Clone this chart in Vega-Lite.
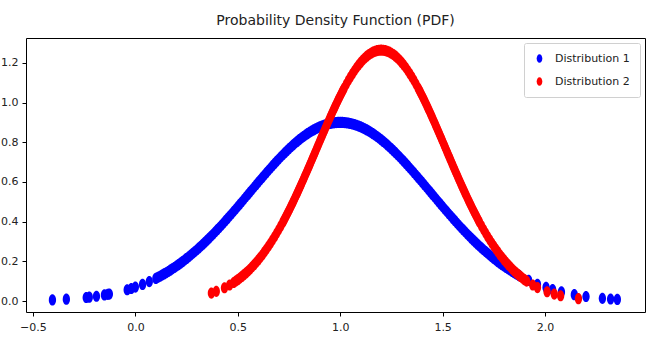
{
  "$schema": "https://vega.github.io/schema/vega-lite/v6.json",
  "autosize": "none",
  "width": 619,
  "height": 274,
  "padding": {"left": 26, "top": 38, "right": 1, "bottom": 27},
  "background": "white",
  "title": {
    "text": "Probability Density Function (PDF)",
    "font": "DejaVu Sans",
    "fontSize": 14,
    "fontWeight": "normal",
    "color": "#222",
    "anchor": "middle",
    "offset": 10
  },
  "config": {
    "view": {"stroke": "black", "strokeWidth": 1},
    "axis": {
      "domain": false,
      "grid": false,
      "tickColor": "black",
      "tickSize": 4,
      "labelFont": "DejaVu Sans",
      "labelFontSize": 11,
      "labelColor": "#222",
      "title": null
    }
  },
  "datasets": {
    "pts": [
      {"series": "Distribution 1", "x": -0.405, "pdf": 0.0059},
      {"series": "Distribution 1", "x": -0.337, "pdf": 0.0095},
      {"series": "Distribution 1", "x": -0.24, "pdf": 0.0179},
      {"series": "Distribution 1", "x": -0.225, "pdf": 0.0197},
      {"series": "Distribution 1", "x": -0.19, "pdf": 0.0244},
      {"series": "Distribution 1", "x": -0.151, "pdf": 0.0308},
      {"series": "Distribution 1", "x": -0.135, "pdf": 0.0338},
      {"series": "Distribution 1", "x": -0.127, "pdf": 0.0354},
      {"series": "Distribution 1", "x": -0.04, "pdf": 0.0572},
      {"series": "Distribution 1", "x": -0.02, "pdf": 0.0635},
      {"series": "Distribution 1", "x": 0.0, "pdf": 0.0704},
      {"series": "Distribution 1", "x": 0.035, "pdf": 0.0839},
      {"series": "Distribution 1", "x": 0.068, "pdf": 0.0984},
      {"series": "Distribution 1", "x": 0.10, "pdf": 0.1143},
      {"series": "Distribution 1", "x": 0.11, "pdf": 0.1196},
      {"series": "Distribution 1", "x": 0.12, "pdf": 0.1251},
      {"series": "Distribution 1", "x": 0.13, "pdf": 0.1308},
      {"series": "Distribution 1", "x": 0.14, "pdf": 0.1367},
      {"series": "Distribution 1", "x": 0.15, "pdf": 0.1428},
      {"series": "Distribution 1", "x": 0.16, "pdf": 0.1491},
      {"series": "Distribution 1", "x": 0.17, "pdf": 0.1556},
      {"series": "Distribution 1", "x": 0.18, "pdf": 0.1623},
      {"series": "Distribution 1", "x": 0.19, "pdf": 0.1691},
      {"series": "Distribution 1", "x": 0.20, "pdf": 0.1762},
      {"series": "Distribution 1", "x": 0.21, "pdf": 0.1835},
      {"series": "Distribution 1", "x": 0.22, "pdf": 0.1910},
      {"series": "Distribution 1", "x": 0.23, "pdf": 0.1987},
      {"series": "Distribution 1", "x": 0.24, "pdf": 0.2066},
      {"series": "Distribution 1", "x": 0.25, "pdf": 0.2147},
      {"series": "Distribution 1", "x": 0.26, "pdf": 0.2230},
      {"series": "Distribution 1", "x": 0.27, "pdf": 0.2315},
      {"series": "Distribution 1", "x": 0.28, "pdf": 0.2402},
      {"series": "Distribution 1", "x": 0.29, "pdf": 0.2492},
      {"series": "Distribution 1", "x": 0.30, "pdf": 0.2583},
      {"series": "Distribution 1", "x": 0.31, "pdf": 0.2676},
      {"series": "Distribution 1", "x": 0.32, "pdf": 0.2771},
      {"series": "Distribution 1", "x": 0.33, "pdf": 0.2868},
      {"series": "Distribution 1", "x": 0.34, "pdf": 0.2967},
      {"series": "Distribution 1", "x": 0.35, "pdf": 0.3067},
      {"series": "Distribution 1", "x": 0.36, "pdf": 0.3170},
      {"series": "Distribution 1", "x": 0.37, "pdf": 0.3274},
      {"series": "Distribution 1", "x": 0.38, "pdf": 0.3380},
      {"series": "Distribution 1", "x": 0.39, "pdf": 0.3487},
      {"series": "Distribution 1", "x": 0.40, "pdf": 0.3597},
      {"series": "Distribution 1", "x": 0.41, "pdf": 0.3707},
      {"series": "Distribution 1", "x": 0.42, "pdf": 0.3820},
      {"series": "Distribution 1", "x": 0.43, "pdf": 0.3933},
      {"series": "Distribution 1", "x": 0.44, "pdf": 0.4048},
      {"series": "Distribution 1", "x": 0.45, "pdf": 0.4164},
      {"series": "Distribution 1", "x": 0.46, "pdf": 0.4281},
      {"series": "Distribution 1", "x": 0.47, "pdf": 0.4400},
      {"series": "Distribution 1", "x": 0.48, "pdf": 0.4519},
      {"series": "Distribution 1", "x": 0.49, "pdf": 0.4639},
      {"series": "Distribution 1", "x": 0.50, "pdf": 0.4760},
      {"series": "Distribution 1", "x": 0.51, "pdf": 0.4882},
      {"series": "Distribution 1", "x": 0.52, "pdf": 0.5004},
      {"series": "Distribution 1", "x": 0.53, "pdf": 0.5127},
      {"series": "Distribution 1", "x": 0.54, "pdf": 0.5250},
      {"series": "Distribution 1", "x": 0.55, "pdf": 0.5373},
      {"series": "Distribution 1", "x": 0.56, "pdf": 0.5496},
      {"series": "Distribution 1", "x": 0.57, "pdf": 0.5619},
      {"series": "Distribution 1", "x": 0.58, "pdf": 0.5742},
      {"series": "Distribution 1", "x": 0.59, "pdf": 0.5865},
      {"series": "Distribution 1", "x": 0.60, "pdf": 0.5987},
      {"series": "Distribution 1", "x": 0.61, "pdf": 0.6109},
      {"series": "Distribution 1", "x": 0.62, "pdf": 0.6230},
      {"series": "Distribution 1", "x": 0.63, "pdf": 0.6350},
      {"series": "Distribution 1", "x": 0.64, "pdf": 0.6469},
      {"series": "Distribution 1", "x": 0.65, "pdf": 0.6587},
      {"series": "Distribution 1", "x": 0.66, "pdf": 0.6704},
      {"series": "Distribution 1", "x": 0.67, "pdf": 0.6819},
      {"series": "Distribution 1", "x": 0.68, "pdf": 0.6933},
      {"series": "Distribution 1", "x": 0.69, "pdf": 0.7045},
      {"series": "Distribution 1", "x": 0.70, "pdf": 0.7156},
      {"series": "Distribution 1", "x": 0.71, "pdf": 0.7264},
      {"series": "Distribution 1", "x": 0.72, "pdf": 0.7370},
      {"series": "Distribution 1", "x": 0.73, "pdf": 0.7474},
      {"series": "Distribution 1", "x": 0.74, "pdf": 0.7576},
      {"series": "Distribution 1", "x": 0.75, "pdf": 0.7675},
      {"series": "Distribution 1", "x": 0.76, "pdf": 0.7772},
      {"series": "Distribution 1", "x": 0.77, "pdf": 0.7865},
      {"series": "Distribution 1", "x": 0.78, "pdf": 0.7956},
      {"series": "Distribution 1", "x": 0.79, "pdf": 0.8043},
      {"series": "Distribution 1", "x": 0.80, "pdf": 0.8128},
      {"series": "Distribution 1", "x": 0.81, "pdf": 0.8209},
      {"series": "Distribution 1", "x": 0.82, "pdf": 0.8287},
      {"series": "Distribution 1", "x": 0.83, "pdf": 0.8361},
      {"series": "Distribution 1", "x": 0.84, "pdf": 0.8432},
      {"series": "Distribution 1", "x": 0.85, "pdf": 0.8499},
      {"series": "Distribution 1", "x": 0.86, "pdf": 0.8562},
      {"series": "Distribution 1", "x": 0.87, "pdf": 0.8621},
      {"series": "Distribution 1", "x": 0.88, "pdf": 0.8676},
      {"series": "Distribution 1", "x": 0.89, "pdf": 0.8727},
      {"series": "Distribution 1", "x": 0.90, "pdf": 0.8774},
      {"series": "Distribution 1", "x": 0.91, "pdf": 0.8816},
      {"series": "Distribution 1", "x": 0.92, "pdf": 0.8854},
      {"series": "Distribution 1", "x": 0.93, "pdf": 0.8888},
      {"series": "Distribution 1", "x": 0.94, "pdf": 0.8918},
      {"series": "Distribution 1", "x": 0.95, "pdf": 0.8943},
      {"series": "Distribution 1", "x": 0.96, "pdf": 0.8963},
      {"series": "Distribution 1", "x": 0.97, "pdf": 0.8979},
      {"series": "Distribution 1", "x": 0.98, "pdf": 0.8991},
      {"series": "Distribution 1", "x": 0.99, "pdf": 0.8998},
      {"series": "Distribution 1", "x": 1.00, "pdf": 0.9000},
      {"series": "Distribution 1", "x": 1.01, "pdf": 0.8998},
      {"series": "Distribution 1", "x": 1.02, "pdf": 0.8991},
      {"series": "Distribution 1", "x": 1.03, "pdf": 0.8979},
      {"series": "Distribution 1", "x": 1.04, "pdf": 0.8963},
      {"series": "Distribution 1", "x": 1.05, "pdf": 0.8943},
      {"series": "Distribution 1", "x": 1.06, "pdf": 0.8918},
      {"series": "Distribution 1", "x": 1.07, "pdf": 0.8888},
      {"series": "Distribution 1", "x": 1.08, "pdf": 0.8854},
      {"series": "Distribution 1", "x": 1.09, "pdf": 0.8816},
      {"series": "Distribution 1", "x": 1.10, "pdf": 0.8774},
      {"series": "Distribution 1", "x": 1.11, "pdf": 0.8727},
      {"series": "Distribution 1", "x": 1.12, "pdf": 0.8676},
      {"series": "Distribution 1", "x": 1.13, "pdf": 0.8621},
      {"series": "Distribution 1", "x": 1.14, "pdf": 0.8562},
      {"series": "Distribution 1", "x": 1.15, "pdf": 0.8499},
      {"series": "Distribution 1", "x": 1.16, "pdf": 0.8432},
      {"series": "Distribution 1", "x": 1.17, "pdf": 0.8361},
      {"series": "Distribution 1", "x": 1.18, "pdf": 0.8287},
      {"series": "Distribution 1", "x": 1.19, "pdf": 0.8209},
      {"series": "Distribution 1", "x": 1.20, "pdf": 0.8128},
      {"series": "Distribution 1", "x": 1.21, "pdf": 0.8043},
      {"series": "Distribution 1", "x": 1.22, "pdf": 0.7956},
      {"series": "Distribution 1", "x": 1.23, "pdf": 0.7865},
      {"series": "Distribution 1", "x": 1.24, "pdf": 0.7772},
      {"series": "Distribution 1", "x": 1.25, "pdf": 0.7675},
      {"series": "Distribution 1", "x": 1.26, "pdf": 0.7576},
      {"series": "Distribution 1", "x": 1.27, "pdf": 0.7474},
      {"series": "Distribution 1", "x": 1.28, "pdf": 0.7370},
      {"series": "Distribution 1", "x": 1.29, "pdf": 0.7264},
      {"series": "Distribution 1", "x": 1.30, "pdf": 0.7156},
      {"series": "Distribution 1", "x": 1.31, "pdf": 0.7045},
      {"series": "Distribution 1", "x": 1.32, "pdf": 0.6933},
      {"series": "Distribution 1", "x": 1.33, "pdf": 0.6819},
      {"series": "Distribution 1", "x": 1.34, "pdf": 0.6704},
      {"series": "Distribution 1", "x": 1.35, "pdf": 0.6587},
      {"series": "Distribution 1", "x": 1.36, "pdf": 0.6469},
      {"series": "Distribution 1", "x": 1.37, "pdf": 0.6350},
      {"series": "Distribution 1", "x": 1.38, "pdf": 0.6230},
      {"series": "Distribution 1", "x": 1.39, "pdf": 0.6109},
      {"series": "Distribution 1", "x": 1.40, "pdf": 0.5987},
      {"series": "Distribution 1", "x": 1.41, "pdf": 0.5865},
      {"series": "Distribution 1", "x": 1.42, "pdf": 0.5742},
      {"series": "Distribution 1", "x": 1.43, "pdf": 0.5619},
      {"series": "Distribution 1", "x": 1.44, "pdf": 0.5496},
      {"series": "Distribution 1", "x": 1.45, "pdf": 0.5373},
      {"series": "Distribution 1", "x": 1.46, "pdf": 0.5250},
      {"series": "Distribution 1", "x": 1.47, "pdf": 0.5127},
      {"series": "Distribution 1", "x": 1.48, "pdf": 0.5004},
      {"series": "Distribution 1", "x": 1.49, "pdf": 0.4882},
      {"series": "Distribution 1", "x": 1.50, "pdf": 0.4760},
      {"series": "Distribution 1", "x": 1.51, "pdf": 0.4639},
      {"series": "Distribution 1", "x": 1.52, "pdf": 0.4519},
      {"series": "Distribution 1", "x": 1.53, "pdf": 0.4400},
      {"series": "Distribution 1", "x": 1.54, "pdf": 0.4281},
      {"series": "Distribution 1", "x": 1.55, "pdf": 0.4164},
      {"series": "Distribution 1", "x": 1.56, "pdf": 0.4048},
      {"series": "Distribution 1", "x": 1.57, "pdf": 0.3933},
      {"series": "Distribution 1", "x": 1.58, "pdf": 0.3820},
      {"series": "Distribution 1", "x": 1.59, "pdf": 0.3707},
      {"series": "Distribution 1", "x": 1.60, "pdf": 0.3597},
      {"series": "Distribution 1", "x": 1.61, "pdf": 0.3487},
      {"series": "Distribution 1", "x": 1.62, "pdf": 0.3380},
      {"series": "Distribution 1", "x": 1.63, "pdf": 0.3274},
      {"series": "Distribution 1", "x": 1.64, "pdf": 0.3170},
      {"series": "Distribution 1", "x": 1.65, "pdf": 0.3067},
      {"series": "Distribution 1", "x": 1.66, "pdf": 0.2967},
      {"series": "Distribution 1", "x": 1.67, "pdf": 0.2868},
      {"series": "Distribution 1", "x": 1.68, "pdf": 0.2771},
      {"series": "Distribution 1", "x": 1.69, "pdf": 0.2676},
      {"series": "Distribution 1", "x": 1.70, "pdf": 0.2583},
      {"series": "Distribution 1", "x": 1.71, "pdf": 0.2492},
      {"series": "Distribution 1", "x": 1.72, "pdf": 0.2402},
      {"series": "Distribution 1", "x": 1.73, "pdf": 0.2315},
      {"series": "Distribution 1", "x": 1.74, "pdf": 0.2230},
      {"series": "Distribution 1", "x": 1.75, "pdf": 0.2147},
      {"series": "Distribution 1", "x": 1.76, "pdf": 0.2066},
      {"series": "Distribution 1", "x": 1.77, "pdf": 0.1987},
      {"series": "Distribution 1", "x": 1.78, "pdf": 0.1910},
      {"series": "Distribution 1", "x": 1.79, "pdf": 0.1835},
      {"series": "Distribution 1", "x": 1.80, "pdf": 0.1762},
      {"series": "Distribution 1", "x": 1.81, "pdf": 0.1691},
      {"series": "Distribution 1", "x": 1.82, "pdf": 0.1623},
      {"series": "Distribution 1", "x": 1.83, "pdf": 0.1556},
      {"series": "Distribution 1", "x": 1.84, "pdf": 0.1491},
      {"series": "Distribution 1", "x": 1.85, "pdf": 0.1428},
      {"series": "Distribution 1", "x": 1.86, "pdf": 0.1367},
      {"series": "Distribution 1", "x": 1.87, "pdf": 0.1308},
      {"series": "Distribution 1", "x": 1.875, "pdf": 0.1280},
      {"series": "Distribution 1", "x": 1.92, "pdf": 0.1042},
      {"series": "Distribution 1", "x": 1.963, "pdf": 0.0848},
      {"series": "Distribution 1", "x": 2.005, "pdf": 0.0686},
      {"series": "Distribution 1", "x": 2.037, "pdf": 0.0581},
      {"series": "Distribution 1", "x": 2.08, "pdf": 0.0461},
      {"series": "Distribution 1", "x": 2.143, "pdf": 0.0323},
      {"series": "Distribution 1", "x": 2.2, "pdf": 0.0230},
      {"series": "Distribution 1", "x": 2.28, "pdf": 0.0139},
      {"series": "Distribution 1", "x": 2.32, "pdf": 0.0106},
      {"series": "Distribution 1", "x": 2.353, "pdf": 0.0085},
      {"series": "Distribution 2", "x": 0.371, "pdf": 0.0401},
      {"series": "Distribution 2", "x": 0.395, "pdf": 0.0489},
      {"series": "Distribution 2", "x": 0.435, "pdf": 0.0670},
      {"series": "Distribution 2", "x": 0.46, "pdf": 0.0809},
      {"series": "Distribution 2", "x": 0.48, "pdf": 0.0937},
      {"series": "Distribution 2", "x": 0.49, "pdf": 0.1006},
      {"series": "Distribution 2", "x": 0.50, "pdf": 0.1080},
      {"series": "Distribution 2", "x": 0.51, "pdf": 0.1158},
      {"series": "Distribution 2", "x": 0.52, "pdf": 0.1241},
      {"series": "Distribution 2", "x": 0.53, "pdf": 0.1328},
      {"series": "Distribution 2", "x": 0.54, "pdf": 0.1419},
      {"series": "Distribution 2", "x": 0.55, "pdf": 0.1516},
      {"series": "Distribution 2", "x": 0.56, "pdf": 0.1617},
      {"series": "Distribution 2", "x": 0.57, "pdf": 0.1724},
      {"series": "Distribution 2", "x": 0.58, "pdf": 0.1835},
      {"series": "Distribution 2", "x": 0.59, "pdf": 0.1952},
      {"series": "Distribution 2", "x": 0.60, "pdf": 0.2074},
      {"series": "Distribution 2", "x": 0.61, "pdf": 0.2202},
      {"series": "Distribution 2", "x": 0.62, "pdf": 0.2335},
      {"series": "Distribution 2", "x": 0.63, "pdf": 0.2474},
      {"series": "Distribution 2", "x": 0.64, "pdf": 0.2618},
      {"series": "Distribution 2", "x": 0.65, "pdf": 0.2768},
      {"series": "Distribution 2", "x": 0.66, "pdf": 0.2924},
      {"series": "Distribution 2", "x": 0.67, "pdf": 0.3086},
      {"series": "Distribution 2", "x": 0.68, "pdf": 0.3252},
      {"series": "Distribution 2", "x": 0.69, "pdf": 0.3425},
      {"series": "Distribution 2", "x": 0.70, "pdf": 0.3603},
      {"series": "Distribution 2", "x": 0.71, "pdf": 0.3787},
      {"series": "Distribution 2", "x": 0.72, "pdf": 0.3976},
      {"series": "Distribution 2", "x": 0.725, "pdf": 0.4072},
      {"series": "Distribution 2", "x": 0.73, "pdf": 0.4170},
      {"series": "Distribution 2", "x": 0.735, "pdf": 0.4269},
      {"series": "Distribution 2", "x": 0.74, "pdf": 0.4369},
      {"series": "Distribution 2", "x": 0.745, "pdf": 0.4471},
      {"series": "Distribution 2", "x": 0.75, "pdf": 0.4574},
      {"series": "Distribution 2", "x": 0.755, "pdf": 0.4677},
      {"series": "Distribution 2", "x": 0.76, "pdf": 0.4783},
      {"series": "Distribution 2", "x": 0.765, "pdf": 0.4889},
      {"series": "Distribution 2", "x": 0.77, "pdf": 0.4996},
      {"series": "Distribution 2", "x": 0.775, "pdf": 0.5105},
      {"series": "Distribution 2", "x": 0.78, "pdf": 0.5214},
      {"series": "Distribution 2", "x": 0.785, "pdf": 0.5324},
      {"series": "Distribution 2", "x": 0.79, "pdf": 0.5436},
      {"series": "Distribution 2", "x": 0.795, "pdf": 0.5548},
      {"series": "Distribution 2", "x": 0.80, "pdf": 0.5661},
      {"series": "Distribution 2", "x": 0.805, "pdf": 0.5775},
      {"series": "Distribution 2", "x": 0.81, "pdf": 0.5890},
      {"series": "Distribution 2", "x": 0.815, "pdf": 0.6006},
      {"series": "Distribution 2", "x": 0.82, "pdf": 0.6122},
      {"series": "Distribution 2", "x": 0.825, "pdf": 0.6240},
      {"series": "Distribution 2", "x": 0.83, "pdf": 0.6357},
      {"series": "Distribution 2", "x": 0.835, "pdf": 0.6476},
      {"series": "Distribution 2", "x": 0.84, "pdf": 0.6595},
      {"series": "Distribution 2", "x": 0.845, "pdf": 0.6714},
      {"series": "Distribution 2", "x": 0.85, "pdf": 0.6834},
      {"series": "Distribution 2", "x": 0.855, "pdf": 0.6954},
      {"series": "Distribution 2", "x": 0.86, "pdf": 0.7075},
      {"series": "Distribution 2", "x": 0.865, "pdf": 0.7196},
      {"series": "Distribution 2", "x": 0.87, "pdf": 0.7317},
      {"series": "Distribution 2", "x": 0.875, "pdf": 0.7438},
      {"series": "Distribution 2", "x": 0.88, "pdf": 0.7559},
      {"series": "Distribution 2", "x": 0.885, "pdf": 0.7681},
      {"series": "Distribution 2", "x": 0.89, "pdf": 0.7802},
      {"series": "Distribution 2", "x": 0.895, "pdf": 0.7924},
      {"series": "Distribution 2", "x": 0.90, "pdf": 0.8045},
      {"series": "Distribution 2", "x": 0.905, "pdf": 0.8166},
      {"series": "Distribution 2", "x": 0.91, "pdf": 0.8287},
      {"series": "Distribution 2", "x": 0.915, "pdf": 0.8407},
      {"series": "Distribution 2", "x": 0.92, "pdf": 0.8527},
      {"series": "Distribution 2", "x": 0.925, "pdf": 0.8647},
      {"series": "Distribution 2", "x": 0.93, "pdf": 0.8766},
      {"series": "Distribution 2", "x": 0.935, "pdf": 0.8885},
      {"series": "Distribution 2", "x": 0.94, "pdf": 0.9002},
      {"series": "Distribution 2", "x": 0.945, "pdf": 0.9120},
      {"series": "Distribution 2", "x": 0.95, "pdf": 0.9236},
      {"series": "Distribution 2", "x": 0.955, "pdf": 0.9351},
      {"series": "Distribution 2", "x": 0.96, "pdf": 0.9466},
      {"series": "Distribution 2", "x": 0.965, "pdf": 0.9580},
      {"series": "Distribution 2", "x": 0.97, "pdf": 0.9692},
      {"series": "Distribution 2", "x": 0.975, "pdf": 0.9803},
      {"series": "Distribution 2", "x": 0.98, "pdf": 0.9913},
      {"series": "Distribution 2", "x": 0.985, "pdf": 1.0022},
      {"series": "Distribution 2", "x": 0.99, "pdf": 1.0130},
      {"series": "Distribution 2", "x": 0.995, "pdf": 1.0236},
      {"series": "Distribution 2", "x": 1.00, "pdf": 1.0340},
      {"series": "Distribution 2", "x": 1.005, "pdf": 1.0443},
      {"series": "Distribution 2", "x": 1.01, "pdf": 1.0545},
      {"series": "Distribution 2", "x": 1.015, "pdf": 1.0645},
      {"series": "Distribution 2", "x": 1.02, "pdf": 1.0743},
      {"series": "Distribution 2", "x": 1.03, "pdf": 1.0933},
      {"series": "Distribution 2", "x": 1.04, "pdf": 1.1116},
      {"series": "Distribution 2", "x": 1.05, "pdf": 1.1290},
      {"series": "Distribution 2", "x": 1.06, "pdf": 1.1455},
      {"series": "Distribution 2", "x": 1.07, "pdf": 1.1612},
      {"series": "Distribution 2", "x": 1.08, "pdf": 1.1758},
      {"series": "Distribution 2", "x": 1.09, "pdf": 1.1895},
      {"series": "Distribution 2", "x": 1.10, "pdf": 1.2021},
      {"series": "Distribution 2", "x": 1.11, "pdf": 1.2136},
      {"series": "Distribution 2", "x": 1.12, "pdf": 1.2240},
      {"series": "Distribution 2", "x": 1.13, "pdf": 1.2333},
      {"series": "Distribution 2", "x": 1.14, "pdf": 1.2414},
      {"series": "Distribution 2", "x": 1.15, "pdf": 1.2482},
      {"series": "Distribution 2", "x": 1.16, "pdf": 1.2539},
      {"series": "Distribution 2", "x": 1.17, "pdf": 1.2583},
      {"series": "Distribution 2", "x": 1.18, "pdf": 1.2615},
      {"series": "Distribution 2", "x": 1.19, "pdf": 1.2634},
      {"series": "Distribution 2", "x": 1.20, "pdf": 1.2640},
      {"series": "Distribution 2", "x": 1.21, "pdf": 1.2634},
      {"series": "Distribution 2", "x": 1.22, "pdf": 1.2615},
      {"series": "Distribution 2", "x": 1.23, "pdf": 1.2583},
      {"series": "Distribution 2", "x": 1.24, "pdf": 1.2539},
      {"series": "Distribution 2", "x": 1.25, "pdf": 1.2482},
      {"series": "Distribution 2", "x": 1.26, "pdf": 1.2414},
      {"series": "Distribution 2", "x": 1.27, "pdf": 1.2333},
      {"series": "Distribution 2", "x": 1.28, "pdf": 1.2240},
      {"series": "Distribution 2", "x": 1.29, "pdf": 1.2136},
      {"series": "Distribution 2", "x": 1.30, "pdf": 1.2021},
      {"series": "Distribution 2", "x": 1.31, "pdf": 1.1895},
      {"series": "Distribution 2", "x": 1.32, "pdf": 1.1758},
      {"series": "Distribution 2", "x": 1.33, "pdf": 1.1612},
      {"series": "Distribution 2", "x": 1.34, "pdf": 1.1455},
      {"series": "Distribution 2", "x": 1.35, "pdf": 1.1290},
      {"series": "Distribution 2", "x": 1.36, "pdf": 1.1116},
      {"series": "Distribution 2", "x": 1.37, "pdf": 1.0933},
      {"series": "Distribution 2", "x": 1.38, "pdf": 1.0743},
      {"series": "Distribution 2", "x": 1.385, "pdf": 1.0645},
      {"series": "Distribution 2", "x": 1.39, "pdf": 1.0545},
      {"series": "Distribution 2", "x": 1.395, "pdf": 1.0443},
      {"series": "Distribution 2", "x": 1.40, "pdf": 1.0340},
      {"series": "Distribution 2", "x": 1.405, "pdf": 1.0236},
      {"series": "Distribution 2", "x": 1.41, "pdf": 1.0130},
      {"series": "Distribution 2", "x": 1.415, "pdf": 1.0022},
      {"series": "Distribution 2", "x": 1.42, "pdf": 0.9913},
      {"series": "Distribution 2", "x": 1.425, "pdf": 0.9803},
      {"series": "Distribution 2", "x": 1.43, "pdf": 0.9692},
      {"series": "Distribution 2", "x": 1.435, "pdf": 0.9580},
      {"series": "Distribution 2", "x": 1.44, "pdf": 0.9466},
      {"series": "Distribution 2", "x": 1.445, "pdf": 0.9351},
      {"series": "Distribution 2", "x": 1.45, "pdf": 0.9236},
      {"series": "Distribution 2", "x": 1.455, "pdf": 0.9120},
      {"series": "Distribution 2", "x": 1.46, "pdf": 0.9002},
      {"series": "Distribution 2", "x": 1.465, "pdf": 0.8885},
      {"series": "Distribution 2", "x": 1.47, "pdf": 0.8766},
      {"series": "Distribution 2", "x": 1.475, "pdf": 0.8647},
      {"series": "Distribution 2", "x": 1.48, "pdf": 0.8527},
      {"series": "Distribution 2", "x": 1.485, "pdf": 0.8407},
      {"series": "Distribution 2", "x": 1.49, "pdf": 0.8287},
      {"series": "Distribution 2", "x": 1.495, "pdf": 0.8166},
      {"series": "Distribution 2", "x": 1.50, "pdf": 0.8045},
      {"series": "Distribution 2", "x": 1.505, "pdf": 0.7924},
      {"series": "Distribution 2", "x": 1.51, "pdf": 0.7802},
      {"series": "Distribution 2", "x": 1.515, "pdf": 0.7681},
      {"series": "Distribution 2", "x": 1.52, "pdf": 0.7559},
      {"series": "Distribution 2", "x": 1.525, "pdf": 0.7438},
      {"series": "Distribution 2", "x": 1.53, "pdf": 0.7317},
      {"series": "Distribution 2", "x": 1.535, "pdf": 0.7196},
      {"series": "Distribution 2", "x": 1.54, "pdf": 0.7075},
      {"series": "Distribution 2", "x": 1.545, "pdf": 0.6954},
      {"series": "Distribution 2", "x": 1.55, "pdf": 0.6834},
      {"series": "Distribution 2", "x": 1.555, "pdf": 0.6714},
      {"series": "Distribution 2", "x": 1.56, "pdf": 0.6595},
      {"series": "Distribution 2", "x": 1.565, "pdf": 0.6476},
      {"series": "Distribution 2", "x": 1.57, "pdf": 0.6357},
      {"series": "Distribution 2", "x": 1.575, "pdf": 0.6240},
      {"series": "Distribution 2", "x": 1.58, "pdf": 0.6122},
      {"series": "Distribution 2", "x": 1.585, "pdf": 0.6006},
      {"series": "Distribution 2", "x": 1.59, "pdf": 0.5890},
      {"series": "Distribution 2", "x": 1.595, "pdf": 0.5775},
      {"series": "Distribution 2", "x": 1.60, "pdf": 0.5661},
      {"series": "Distribution 2", "x": 1.605, "pdf": 0.5548},
      {"series": "Distribution 2", "x": 1.61, "pdf": 0.5436},
      {"series": "Distribution 2", "x": 1.615, "pdf": 0.5324},
      {"series": "Distribution 2", "x": 1.62, "pdf": 0.5214},
      {"series": "Distribution 2", "x": 1.625, "pdf": 0.5105},
      {"series": "Distribution 2", "x": 1.63, "pdf": 0.4996},
      {"series": "Distribution 2", "x": 1.635, "pdf": 0.4889},
      {"series": "Distribution 2", "x": 1.64, "pdf": 0.4783},
      {"series": "Distribution 2", "x": 1.645, "pdf": 0.4677},
      {"series": "Distribution 2", "x": 1.65, "pdf": 0.4574},
      {"series": "Distribution 2", "x": 1.655, "pdf": 0.4471},
      {"series": "Distribution 2", "x": 1.66, "pdf": 0.4369},
      {"series": "Distribution 2", "x": 1.665, "pdf": 0.4269},
      {"series": "Distribution 2", "x": 1.67, "pdf": 0.4170},
      {"series": "Distribution 2", "x": 1.675, "pdf": 0.4072},
      {"series": "Distribution 2", "x": 1.68, "pdf": 0.3976},
      {"series": "Distribution 2", "x": 1.69, "pdf": 0.3787},
      {"series": "Distribution 2", "x": 1.70, "pdf": 0.3603},
      {"series": "Distribution 2", "x": 1.71, "pdf": 0.3425},
      {"series": "Distribution 2", "x": 1.72, "pdf": 0.3252},
      {"series": "Distribution 2", "x": 1.73, "pdf": 0.3086},
      {"series": "Distribution 2", "x": 1.74, "pdf": 0.2924},
      {"series": "Distribution 2", "x": 1.75, "pdf": 0.2768},
      {"series": "Distribution 2", "x": 1.76, "pdf": 0.2618},
      {"series": "Distribution 2", "x": 1.77, "pdf": 0.2474},
      {"series": "Distribution 2", "x": 1.78, "pdf": 0.2335},
      {"series": "Distribution 2", "x": 1.79, "pdf": 0.2202},
      {"series": "Distribution 2", "x": 1.80, "pdf": 0.2074},
      {"series": "Distribution 2", "x": 1.81, "pdf": 0.1952},
      {"series": "Distribution 2", "x": 1.82, "pdf": 0.1835},
      {"series": "Distribution 2", "x": 1.83, "pdf": 0.1724},
      {"series": "Distribution 2", "x": 1.84, "pdf": 0.1617},
      {"series": "Distribution 2", "x": 1.85, "pdf": 0.1516},
      {"series": "Distribution 2", "x": 1.86, "pdf": 0.1419},
      {"series": "Distribution 2", "x": 1.87, "pdf": 0.1328},
      {"series": "Distribution 2", "x": 1.88, "pdf": 0.1241},
      {"series": "Distribution 2", "x": 1.89, "pdf": 0.1158},
      {"series": "Distribution 2", "x": 1.90, "pdf": 0.1080},
      {"series": "Distribution 2", "x": 1.91, "pdf": 0.1006},
      {"series": "Distribution 2", "x": 1.94, "pdf": 0.0809},
      {"series": "Distribution 2", "x": 1.963, "pdf": 0.0680},
      {"series": "Distribution 2", "x": 2.01, "pdf": 0.0469},
      {"series": "Distribution 2", "x": 2.045, "pdf": 0.0351},
      {"series": "Distribution 2", "x": 2.076, "pdf": 0.0268},
      {"series": "Distribution 2", "x": 2.163, "pdf": 0.0120}
    ]
  },
  "data": {"name": "pts"},
  "mark": {
    "type": "point",
    "filled": true,
    "opacity": 1,
    "size": 125,
    "shape": "M0,-1A0.65,1,0,1,1,0,1A0.65,1,0,1,1,0,-1Z"
  },
  "encoding": {
    "x": {
      "field": "x",
      "type": "quantitative",
      "scale": {"domain": [-0.534, 2.488], "nice": false, "zero": false},
      "axis": {"values": [-0.5, 0, 0.5, 1, 1.5, 2], "format": ".1f", "labelPadding": 5}
    },
    "y": {
      "field": "pdf",
      "type": "quantitative",
      "scale": {"domain": [-0.055, 1.325], "nice": false, "zero": false},
      "axis": {"values": [0, 0.2, 0.4, 0.6, 0.8, 1.0, 1.2], "format": ".1f", "labelPadding": 4}
    },
    "color": {
      "field": "series",
      "type": "nominal",
      "scale": {"domain": ["Distribution 1", "Distribution 2"], "range": ["#0000ff", "#ff0000"]},
      "legend": {
        "title": null,
        "orient": "top-right",
        "offset": 5,
        "fillColor": "white",
        "strokeColor": "#d0d0d0",
        "cornerRadius": 2,
        "padding": 10,
        "symbolType": "M0,-1A0.65,1,0,1,1,0,1A0.65,1,0,1,1,0,-1Z",
        "symbolSize": 75,
        "symbolOpacity": 1,
        "labelFont": "DejaVu Sans",
        "labelFontSize": 11,
        "labelColor": "#222",
        "labelOffset": 10,
        "rowPadding": 11
      }
    }
  }
}
